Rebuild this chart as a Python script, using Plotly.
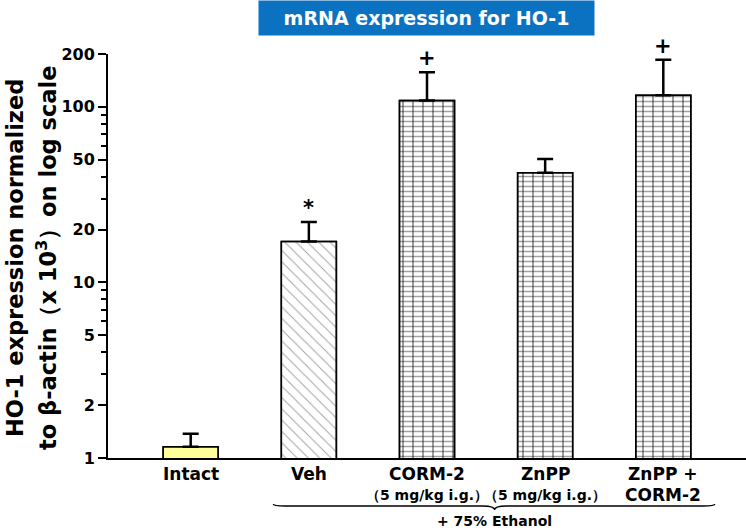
import math
import plotly.graph_objects as go

# ---- data ----
categories = ["Intact", "Veh", "CORM-2", "ZnPP", "ZnPP + CORM-2"]
label_line1 = ["Intact", "Veh", "CORM-2", "ZnPP", "ZnPP +"]
label_line2 = ["", "", "（5 mg/kg i.g.）", "（5 mg/kg i.g.）", "CORM-2"]
means = [1.16, 17.1, 108.6, 42.2, 116.6]
err_plus = [0.215, 5.0, 49.0, 8.3, 69.0]
marks = ["", "*", "+", "", "+"]
y_ticks = [1, 2, 5, 10, 20, 50, 100, 200]
y_minor = [3, 4, 6, 7, 8, 9, 30, 40, 60, 70, 80, 90]
title_text = "mRNA expression for HO-1"
group_text = "+ 75% Ethanol"
ytitle_lines = ["HO-1 expression normalized",
                "to β-actin（x 10<sup>3</sup>）on log scale"]

x_pos = list(range(len(categories)))

fill_colors = ["#FFFF99", "white", "white", "white", "white"]
shape1 = ["", "\\", "-", "-", "-"]
fg1 = ["black", "#8a8a8a", "black", "black", "black"]
size1 = [8, 8, 5, 5, 5]
sol1 = [0.2, 0.12, 0.3, 0.3, 0.3]
shape2 = ["", "", "|", "|", "|"]

GEO = "'DejaVu Sans', sans-serif"

W, H = 746, 531
ML, MR, MT, MB = 108, 0, 54, 73
PW, PH = W - ML - MR, H - MT - MB


def px_to_paper_x(px):
    return (px - ML) / PW


def px_to_paper_y(py):
    return (H - MB - py) / PH


fig = go.Figure()
fig.add_trace(go.Bar(
    x=x_pos, y=means, width=0.466,
    marker=dict(color=fill_colors, line=dict(color="black", width=1.5),
                pattern=dict(shape=shape1, fgcolor=fg1, bgcolor=fill_colors,
                             size=size1, solidity=sol1)),
    error_y=dict(type="data", symmetric=False, array=err_plus,
                 arrayminus=[0] * len(means), color="black",
                 thickness=2.5, width=8),
    showlegend=False, hoverinfo="skip",
))
fig.add_trace(go.Bar(
    x=x_pos, y=means, width=0.466,
    marker=dict(color="rgba(0,0,0,0)", line=dict(color="black", width=1.5),
                pattern=dict(shape=shape2, fgcolor="black", size=10,
                             solidity=0.15)),
    showlegend=False, hoverinfo="skip",
))

# significance marks
for xp, m, e, mk in zip(x_pos, means, err_plus, marks):
    if mk:
        fig.add_annotation(x=xp, y=math.log10(m + e), text=mk,
                           showarrow=False, yanchor="bottom", yshift=0,
                           font=dict(family=GEO, size=21, color="black",
                                     weight="bold"))

# category labels
for xp, l1, l2 in zip(x_pos, label_line1, label_line2):
    fig.add_annotation(x=xp, y=0, yref="paper", text=l1, showarrow=False,
                       yanchor="top", yshift=-4,
                       font=dict(family=GEO, size=17, color="black", weight="bold"))
    if l2:
        big = not l2.startswith("（")
        fig.add_annotation(x=xp, y=0, yref="paper", text=l2, showarrow=False,
                           yanchor="top", yshift=-25 if big else -27,
                           font=dict(family=GEO, size=17 if big else 14,
                                     color="black", weight="bold"))

# brace under treated groups
x0, x1, xc = x_pos[1] - 0.301, x_pos[4] + 0.436, 2.572
yend, ymid, ytip = px_to_paper_y(504), px_to_paper_y(506), px_to_paper_y(510)
brace = (f"M {x0} {yend} Q {x0} {ymid} {x0+0.1} {ymid} L {xc-0.1} {ymid} "
         f"Q {xc} {ymid} {xc} {ytip} Q {xc} {ymid} {xc+0.1} {ymid} "
         f"L {x1-0.1} {ymid} Q {x1} {ymid} {x1} {yend}")
fig.add_shape(type="path", path=brace, xref="x", yref="paper",
              line=dict(color="black", width=1.3))
fig.add_annotation(x=xc, y=px_to_paper_y(510.5), yref="paper", text=group_text,
                   showarrow=False, yanchor="top",
                   font=dict(family=GEO, size=14, color="black", weight="bold"))

# title box
fig.add_annotation(x=px_to_paper_x((259 + 594) / 2), y=px_to_paper_y(0),
                   xref="paper", yref="paper",
                   text=title_text, showarrow=False, yanchor="top",
                   bgcolor="#0B72C2", width=331, height=30, borderpad=2,
                   font=dict(family=GEO, size=19, color="white", weight="bold"))

# y-axis title (two rotated lines)
for cx, txt in zip([15, 46], ytitle_lines):
    fig.add_annotation(x=px_to_paper_x(cx), y=px_to_paper_y(258), xref="paper",
                       yref="paper", text=txt, showarrow=False, textangle=-90,
                       xanchor="center", yanchor="middle",
                       font=dict(family=GEO, size=22.5, color="black", weight="bold"))

fig.update_layout(
    width=W, height=H,
    margin=dict(l=ML, r=MR, t=MT, b=MB, autoexpand=False),
    paper_bgcolor="white", plot_bgcolor="white",
    barmode="overlay", hovermode=False,
    xaxis=dict(range=[-0.7, 4.7], showticklabels=False, ticks="", showgrid=False,
               zeroline=False, showline=True, linecolor="black", linewidth=2),
    yaxis=dict(type="log", range=[0, math.log10(200)], tickmode="array",
               tickvals=y_ticks, ticktext=[str(t) for t in y_ticks],
               ticks="outside", ticklen=8, tickwidth=1.5, tickcolor="black",
               showgrid=False, zeroline=False, showline=True, linecolor="black",
               linewidth=2,
               tickfont=dict(family=GEO, size=16, color="black", weight="bold"),
               minor=dict(tickmode="array", tickvals=y_minor, ticks="outside",
                          ticklen=5, tickwidth=1.5, tickcolor="black",
                          showgrid=False)),
)

fig.write_html("out.html", config={"displayModeBar": False},
               post_script="document.body.style.margin='0px';"
                           "document.body.style.overflow='hidden';")
